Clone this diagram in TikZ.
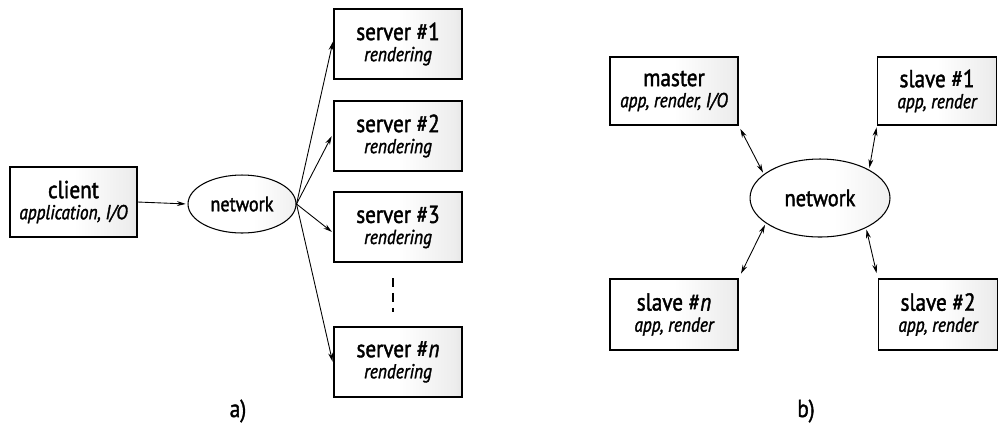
\documentclass[tikz,border=0pt]{standalone}
\usepackage{fontspec}
\setmainfont{PT Sans}[FakeStretch=0.86, FakeBold=1.6]
\usetikzlibrary{arrows.meta,shapes.geometric}
% white on the left, greying towards the right edge
\pgfdeclarehorizontalshading{boxfade}{100bp}{color(0bp)=(white); color(50bp)=(white); color(72bp)=(black!7); color(100bp)=(black!32)}
\pgfdeclarehorizontalshading{cloudfade}{100bp}{color(0bp)=(white); color(55bp)=(white); color(75bp)=(black!6); color(100bp)=(black!22)}
\newcommand{\subline}[1]{{\fontsize{11.5}{13}\selectfont\itshape #1}}
\begin{document}
\begin{tikzpicture}[x=0.02cm,y=-0.02cm,
  box/.style={draw, line width=0.8pt, shading=boxfade,
    minimum width=2.56cm, minimum height=1.4cm, align=center, inner sep=1pt,
    font=\fontsize{14}{15}\selectfont},
  cloud/.style={draw, line width=0.6pt, ellipse, shading=cloudfade,
    inner sep=0pt, font=\fontsize{12}{13}\selectfont},
  link/.style={line width=0.5pt, -{Stealth[length=5pt,width=2.8pt]}},
  dlink/.style={line width=0.5pt, {Stealth[length=5pt,width=2.8pt]}-{Stealth[length=5pt,width=2.8pt]}},
  caption/.style={font=\fontsize{14}{15}\selectfont}
]
\useasboundingbox (0,0) rectangle (999,437);

% ---- a) client / render servers ----
\node[box, minimum width=2.54cm] (client) at (73.5,202) {client\\[-3pt]\subline{application, I/O}};
\node[cloud, minimum width=2.16cm, minimum height=1.16cm] (neta) at (242,204) {network};

\node[box] (s1) at (398,44)  {server \#1\\[-3pt]\subline{rendering}};
\node[box] (s2) at (398,136) {server \#2\\[-3pt]\subline{rendering}};
\node[box] (s3) at (398,227) {server \#3\\[-3pt]\subline{rendering}};
\node[box] (sn) at (398,362) {server \#\textit{n}\\[-3pt]\subline{rendering}};

\coordinate (dtop) at (393,278);
\coordinate (dbot) at (393,312);
\draw[line width=0.6pt, dash pattern=on 5pt off 3.5pt] (dtop) -- (dbot);

\draw[link, shorten >=1pt] (client.east) -- (neta.west);
\draw[link, shorten >=1pt] (neta.east) -- ([yshift=0.08cm]s1.west);
\draw[link, shorten >=2pt] (neta.east) -- ([yshift=0.06cm]s2.west);
\draw[link, shorten >=1pt] (neta.east) -- ([yshift=-0.12cm]s3.west);
\draw[link, shorten >=2pt] (neta.east) -- ([yshift=-0.06cm]sn.west);

\node[caption] (capa) at (238,411) {a)};

% ---- b) master / slaves ----
\node[box, minimum height=1.36cm] (master) at (674,91) {master\\[-3pt]\subline{app, render, I/O}};
\node[box, minimum width=2.38cm, minimum height=1.36cm] (sl1) at (937,91) {slave \#1\\[-3pt]\subline{app, render}};
\node[box, minimum height=1.42cm] (sln) at (674,314.5) {slave \#\textit{n}\\[-3pt]\subline{app, render}};
\node[box, minimum width=2.38cm, minimum height=1.42cm] (sl2) at (938,314.5) {slave \#2\\[-3pt]\subline{app, render}};
\node[cloud, minimum width=2.8cm, minimum height=1.56cm, font=\fontsize{13.5}{14}\selectfont] (netb) at (820,198) {network};

\draw[dlink, shorten <=2pt, shorten >=1pt] (master.south east) -- (netb.157);
\draw[dlink, shorten <=1pt, shorten >=1pt] (netb.30) -- (sl1.south west);
\draw[dlink, shorten <=1pt, shorten >=3pt] (netb.205) -- (sln.north east);
\draw[dlink, shorten <=1pt, shorten >=3pt] (netb.327) -- (sl2.north west);

\node[caption] (capb) at (806,411) {b)};
\end{tikzpicture}
\end{document}
